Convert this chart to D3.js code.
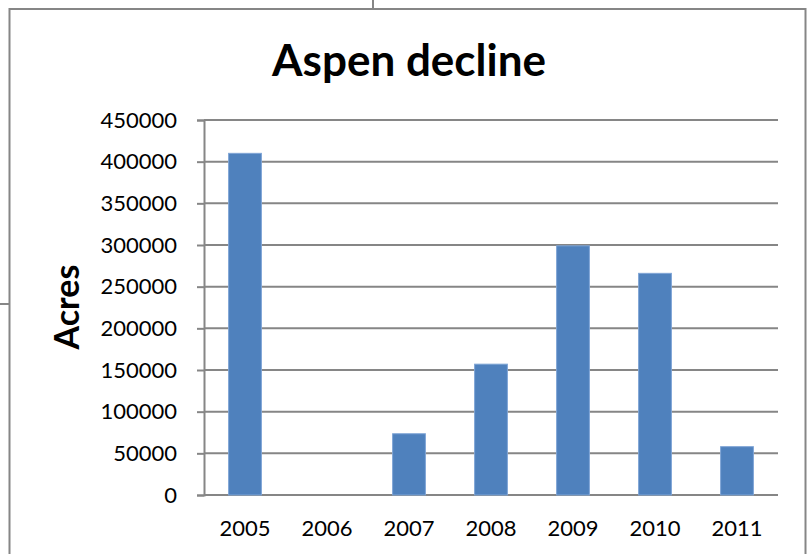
<!DOCTYPE html>
<html>
<head>
<meta charset="utf-8">
<script src="https://cdn.jsdelivr.net/npm/d3@7/dist/d3.min.js"></script>
<style>
  html, body { margin: 0; padding: 0; background: #fff; }
  svg { display: block; font-family: Lato, "Open Sans", sans-serif; }
</style>
</head>
<body>
<svg id="chart" width="812" height="554"></svg>
<script>
// Aspen decline acreage by year
const years = ["2005", "2006", "2007", "2008", "2009", "2010", "2011"];
const acres = [410000, 0, 73500, 157000, 299000, 266000, 58000];
const yTicks = [0, 50000, 100000, 150000, 200000, 250000, 300000, 350000, 400000, 450000];

const svg = d3.select("#chart");
const W = 812, H = 554;
const plot = { left: 204, right: 778, top: 120, bottom: 495 };
const grey = "#868686";

// chart frame and the stray connector ticks around it
svg.append("rect")
  .attr("x", 9.5).attr("y", 9).attr("width", 796).attr("height", H + 20)
  .attr("fill", "#fff").attr("stroke", grey).attr("stroke-width", 2);
svg.append("line").attr("x1", 373).attr("x2", 373).attr("y1", 0).attr("y2", 9)
  .attr("stroke", grey).attr("stroke-width", 2);
svg.append("line").attr("x1", 0).attr("x2", 9).attr("y1", 304).attr("y2", 304)
  .attr("stroke", grey).attr("stroke-width", 2);

const x = d3.scaleBand().domain(years).range([plot.left, plot.right]).paddingInner(0.6).paddingOuter(0.3);
const y = d3.scaleLinear().domain([0, 450000]).range([plot.bottom, plot.top]);

// horizontal gridlines
svg.append("g").selectAll("line").data(yTicks).join("line")
  .attr("x1", plot.left).attr("x2", plot.right)
  .attr("y1", d => y(d)).attr("y2", d => y(d))
  .attr("stroke", grey).attr("stroke-width", 2);

// y axis with ticks
const yAxis = svg.append("g")
  .attr("transform", `translate(${plot.left},0)`)
  .call(d3.axisLeft(y).tickValues(yTicks).tickFormat(d3.format("d")).tickSize(7).tickPadding(20));
yAxis.select(".domain").attr("stroke", grey).attr("stroke-width", 2);
yAxis.selectAll(".tick line").attr("stroke", grey).attr("stroke-width", 2);
yAxis.selectAll(".tick text").attr("font-size", 22).attr("fill", "#000")
  .attr("font-family", "Lato, sans-serif");

// bars
svg.append("g").selectAll("rect").data(years).join("rect")
  .attr("x", d => x(d))
  .attr("width", x.bandwidth())
  .attr("y", (d, i) => y(acres[i]))
  .attr("height", (d, i) => y(0) - y(acres[i]))
  .attr("fill", "#4f81bd")
  .attr("stroke", "#7fa5d6").attr("stroke-width", 1);

// x category labels
const xAxis = svg.append("g")
  .attr("transform", `translate(0,${plot.bottom})`)
  .call(d3.axisBottom(x).tickSize(0).tickPadding(25));
xAxis.select(".domain").remove();
xAxis.selectAll(".tick text").attr("font-size", 22).attr("fill", "#000")
  .attr("font-family", "Lato, sans-serif");

// titles
svg.append("text").attr("x", 409).attr("y", 76).attr("text-anchor", "middle")
  .attr("font-size", 44).attr("font-weight", "bold").attr("fill", "#000")
  .text("Aspen decline");
svg.append("text").attr("transform", "translate(79,307) rotate(-90)").attr("text-anchor", "middle")
  .attr("font-size", 34).attr("font-weight", "bold").attr("fill", "#000")
  .text("Acres");
</script>
</body>
</html>
